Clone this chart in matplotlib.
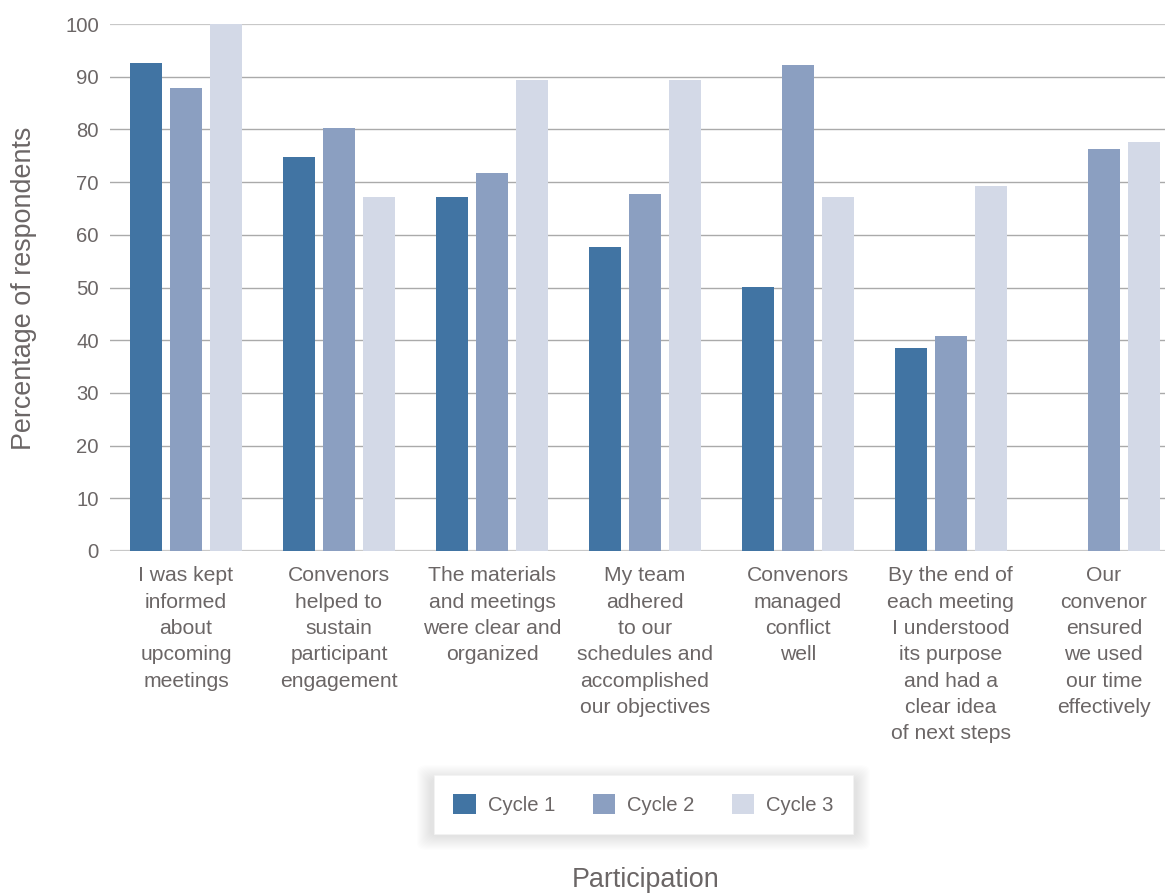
import matplotlib
matplotlib.use("Agg")
import matplotlib.pyplot as plt
import numpy as np
from matplotlib.patches import FancyBboxPatch

plt.rcParams['font.family'] = ['Liberation Sans', 'DejaVu Sans']

categories = [
    "I was kept\ninformed\nabout\nupcoming\nmeetings",
    "Convenors\nhelped to\nsustain\nparticipant\nengagement",
    "The materials\nand meetings\nwere clear and\norganized",
    "My team\nadhered\nto our\nschedules and\naccomplished\nour objectives",
    "Convenors\nmanaged\nconflict\nwell",
    "By the end of\neach meeting\nI understood\nits purpose\nand had a\nclear idea\nof next steps",
    "Our\nconvenor\nensured\nwe used\nour time\neffectively",
]
series_names = ["Cycle 1", "Cycle 2", "Cycle 3"]
cycle1 = [92.6, 74.8, 67.2, 57.7, 50.1, 38.5, 0.0]
cycle2 = [87.8, 80.3, 71.7, 67.7, 92.2, 40.8, 76.3]
cycle3 = [100.0, 67.2, 89.4, 89.4, 67.2, 69.3, 77.6]
yticks = [0, 10, 20, 30, 40, 50, 60, 70, 80, 90, 100]

colors = ["#4174a3", "#8b9fc1", "#d3d9e7"]
text_color = "#6b6666"

fig = plt.figure(figsize=(11.67, 8.94), dpi=100)
ax = fig.add_axes([110 / 1167, 1 - 551 / 894, 1055 / 1167, 527 / 894])

x = np.arange(len(categories))
width = 0.21
offset = 0.262
for i, (vals, name) in enumerate(zip([cycle1, cycle2, cycle3], series_names)):
    ax.bar(x + (i - 1) * offset, vals, width=width, color=colors[i], label=name, zorder=3)

ax.set_xlim(-0.497, 6.40)
ax.set_ylim(0, 100)
ax.set_yticks(yticks)
for v in yticks:
    if v in (0, 100):
        ax.axhline(v, color="#c8c8c8", lw=1.6, zorder=1)
    else:
        ax.axhline(v, color="#aaaaaa", lw=1.0, zorder=1)

for s in ax.spines.values():
    s.set_visible(False)
ax.set_xticks(x)
ax.set_xticklabels(categories, ha="center", va="top", linespacing=1.49)
ax.tick_params(axis="x", length=0, pad=11, labelsize=15.2, labelcolor=text_color)
ax.tick_params(axis="y", length=0, pad=8, labelsize=14.6, labelcolor=text_color)

fig.text(24 / 1167, 1 - 288 / 894, "Percentage of respondents", rotation=90,
         ha="center", va="center", fontsize=19.4, color=text_color)
fig.text(646 / 1167, 1 - 880 / 894, "Participation", ha="center", va="center",
         fontsize=19.4, color=text_color)

# soft shadow behind the legend
lx0, lx1, ly0, ly1 = 431, 856, 776, 833
for k in range(14, 0, -1):
    sh = FancyBboxPatch(((lx0 - k) / 1167, 1 - (ly1 + k + 3) / 894),
                        (lx1 - lx0 + 2 * k) / 1167, (ly1 - ly0 + 2 * k) / 894,
                        boxstyle="round,pad=0,rounding_size=0.008",
                        transform=fig.transFigure, facecolor="#000000",
                        edgecolor="none", alpha=0.006, zorder=-5)
    fig.patches.append(sh)

leg = fig.legend(*ax.get_legend_handles_labels(), loc="center",
                 bbox_to_anchor=(643.5 / 1167, 1 - 804.5 / 894),
                 bbox_transform=fig.transFigure, ncol=3, frameon=True,
                 fontsize=14.6, handlelength=1.1, handleheight=1.1,
                 handletextpad=0.6, columnspacing=1.85, borderpad=0.95,
                 fancybox=False, borderaxespad=0, framealpha=1)
leg.set_zorder(10)
leg.get_frame().set_facecolor("white")
leg.get_frame().set_edgecolor("#f3f3f3")
leg.get_frame().set_linewidth(0.6)
for t in leg.get_texts():
    t.set_color(text_color)

fig.savefig("out.png", dpi=100)
